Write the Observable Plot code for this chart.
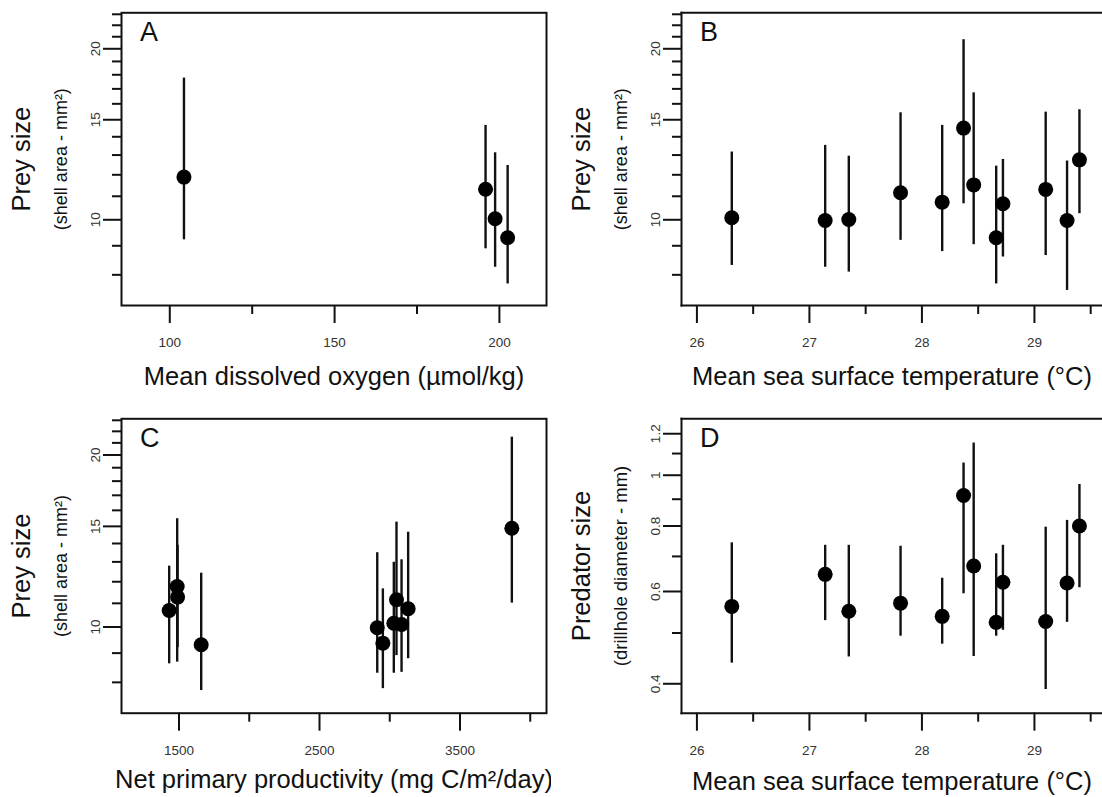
<!DOCTYPE html>
<html><head><meta charset="utf-8">
<script src="https://cdn.jsdelivr.net/npm/d3@7"></script>
<script src="https://cdn.jsdelivr.net/npm/@observablehq/plot@0.6"></script>
<style>
html,body{margin:0;padding:0;background:#fff;overflow:hidden}
#wrap{position:relative;width:1102px;height:797px;background:#fff}
.panel{position:absolute}
.panel svg{max-width:none !important;overflow:visible}
</style></head>
<body><div id="wrap"></div>
<script>
// ---- Panel A: dissolved oxygen vs prey size ----
const oxygenX    = [104.3, 195.8, 198.7, 202.5];
const oxygenPrey = [11.89, 11.32, 10.04, 9.30];
const oxygenLo   = [9.22, 8.89, 8.25, 7.71];
const oxygenHi   = [17.76, 14.66, 13.12, 12.46];

// ---- Panels B & D: sea surface temperature ----
const sstX       = [26.31, 27.14, 27.35, 27.81, 28.18, 28.37, 28.46, 28.66, 28.72, 29.10, 29.29, 29.40];
const sstPrey    = [10.08, 9.97, 10.01, 11.16, 10.74, 14.50, 11.52, 9.30, 10.67, 11.31, 9.97, 12.75];
const sstPreyLo  = [8.31, 8.25, 8.09, 9.20, 8.79, 10.67, 9.04, 7.71, 8.60, 8.65, 7.51, 10.25];
const sstPreyHi  = [13.16, 13.52, 12.94, 15.43, 14.66, 20.75, 16.73, 12.43, 12.77, 15.47, 12.69, 15.62];
const sstPred    = [0.562, 0.647, 0.550, 0.570, 0.538, 0.915, 0.671, 0.524, 0.625, 0.526, 0.623, 0.800];
const sstPredLo  = [0.438, 0.528, 0.450, 0.493, 0.476, 0.594, 0.451, 0.493, 0.506, 0.390, 0.524, 0.610];
const sstPredHi  = [0.743, 0.735, 0.735, 0.732, 0.636, 1.055, 1.152, 0.708, 0.735, 0.796, 0.820, 0.960];

// ---- Panel C: net primary productivity vs prey size ----
const nppX       = [1430, 1487, 1490, 1658, 2911, 2951, 3048, 3029, 3084, 3131, 3869];
const nppPrey    = [10.69, 11.77, 11.28, 9.31, 9.97, 9.37, 11.16, 10.15, 10.10, 10.76, 14.89];
const nppLo      = [8.62, 8.68, 9.20, 7.74, 8.30, 7.80, 8.91, 8.30, 8.33, 8.80, 11.01];
const nppHi      = [12.78, 15.47, 13.90, 12.42, 13.49, 11.66, 15.26, 12.98, 13.11, 14.65, 21.49];

// ---- Tick values and labels ----
const oxyMajor = [100, 150, 200];
const oxyMinor = [125, 175];
const sstMajor = [26, 27, 28, 29];
const sstMinor = [26.5, 27.5, 28.5, 29.5];
const nppMajor = [1500, 2500, 3500];
const nppMinor = [2000, 3000, 4000];
const preyMajor = [10, 15, 20];
const preyMinor = [8, 9, 11, 12, 13, 14, 16, 17, 18, 19, 21, 22, 23];
const predMajor = [0.4, 0.6, 0.8, 1, 1.2];
const predMinor = [0.5, 0.7, 0.9, 1.1];

const preyTitle = "Prey size";
const preySub = "(shell area - mm\u00B2)";
const predTitle = "Predator size";
const predSub = "(drillhole diameter - mm)";

const FONT = "'Liberation Sans', Arial, Helvetica, sans-serif";
const INK = "#111";

function makePanel(cfg) {
  const rows = cfg.xs.map((x, i) => ({x, y: cfg.ys[i], lo: cfg.los[i], hi: cfg.his[i]}));
  const fr = {stroke: INK, strokeWidth: 2};
  const frames = cfg.openRight
    ? [Plot.frame({anchor: "top", ...fr}), Plot.frame({anchor: "bottom", ...fr}), Plot.frame({anchor: "left", ...fr})]
    : [Plot.frame(fr)];
  const chart = Plot.plot({
    width: cfg.width, height: cfg.height,
    marginLeft: cfg.ml, marginRight: cfg.mr, marginTop: cfg.mt, marginBottom: cfg.mb,
    style: {fontFamily: FONT, background: "white", color: "#222"},
    x: {domain: cfg.xDomain, axis: null},
    y: {type: "log", domain: cfg.yDomain, axis: null},
    marks: [
      Plot.axisX(cfg.xMajor, {anchor: "bottom", tickSize: 18, tickFormat: () => "", stroke: INK, strokeWidth: 2, label: null}),
      Plot.axisX(cfg.xMinor, {anchor: "bottom", tickSize: 9, tickFormat: () => "", stroke: INK, strokeWidth: 2, label: null}),
      Plot.axisY(cfg.yMajor, {anchor: "left", tickSize: 18, tickFormat: () => "", stroke: INK, strokeWidth: 2, label: null}),
      Plot.axisY(cfg.yMinor, {anchor: "left", tickSize: 9, tickFormat: () => "", stroke: INK, strokeWidth: 2, label: null}),
      Plot.text(cfg.xMajor, {x: d => d, frameAnchor: "bottom", dy: 37.3, text: d => String(d),
        fontSize: 13.5, fill: "#333", textAnchor: "middle", lineAnchor: "middle"}),
      Plot.text(cfg.yMajor, {y: d => d, frameAnchor: "left", dx: -26, rotate: -90, text: d => String(d),
        fontSize: 13.5, fill: "#333", textAnchor: "middle", lineAnchor: "middle"}),
      Plot.text([cfg.xTitle], {frameAnchor: "bottom", dy: cfg.titleDy, text: d => d, fontSize: 25.5,
        fill: INK, textAnchor: "middle", lineAnchor: "bottom"}),
      Plot.text([cfg.yTitle], {frameAnchor: "left", dx: -100, rotate: -90, text: d => d, fontSize: 25.5,
        fill: INK, textAnchor: "middle", lineAnchor: "middle"}),
      Plot.text([cfg.ySub], {frameAnchor: "left", dx: -60, rotate: -90, text: d => d, fontSize: cfg.subSize,
        fill: INK, textAnchor: "middle", lineAnchor: "middle"}),
      Plot.text([cfg.letter], {frameAnchor: "top-left", dx: 18.5, dy: 28.5, text: d => d, fontSize: 27,
        fill: INK, textAnchor: "start", lineAnchor: "bottom"}),
      ...frames,
      Plot.ruleX(rows, {x: "x", y1: "lo", y2: "hi", stroke: INK, strokeWidth: 2.4}),
      Plot.dot(rows, {x: "x", y: "y", r: 7.5, fill: "#000", stroke: "none"})
    ]
  });
  const div = document.createElement("div");
  div.className = "panel";
  div.style.left = cfg.left + "px";
  div.style.top = cfg.top + "px";
  div.appendChild(chart);
  document.getElementById("wrap").appendChild(div);
}

const preyDomain = [7.065, 23.14];
const predDomain = [0.3515, 1.2814];

makePanel({
  left: 0, top: 0, width: 551, height: 400, ml: 121, mr: 5, mt: 12.3, mb: 95,
  xDomain: [85.35, 214.29], yDomain: preyDomain,
  xs: oxygenX, ys: oxygenPrey, los: oxygenLo, his: oxygenHi,
  xMajor: oxyMajor, xMinor: oxyMinor, yMajor: preyMajor, yMinor: preyMinor,
  xTitle: "Mean dissolved oxygen (\u00B5mol/kg)", titleDy: 79.3,
  yTitle: preyTitle, ySub: preySub, subSize: 18, letter: "A", openRight: false
});

makePanel({
  left: 551, top: 0, width: 551, height: 400, ml: 130, mr: 0, mt: 12.3, mb: 95,
  xDomain: [25.863, 29.605], yDomain: preyDomain,
  xs: sstX, ys: sstPrey, los: sstPreyLo, his: sstPreyHi,
  xMajor: sstMajor, xMinor: sstMinor, yMajor: preyMajor, yMinor: preyMinor,
  xTitle: "Mean sea surface temperature (\u00B0C)", titleDy: 79.3,
  yTitle: preyTitle, ySub: preySub, subSize: 18, letter: "B", openRight: true
});

makePanel({
  left: 0, top: 400, width: 551, height: 397, ml: 121, mr: 5, mt: 18.3, mb: 84.3,
  xDomain: [1090.7, 4115.7], yDomain: preyDomain,
  xs: nppX, ys: nppPrey, los: nppLo, his: nppHi,
  xMajor: nppMajor, xMinor: nppMinor, yMajor: preyMajor, yMinor: preyMinor,
  xTitle: "Net primary productivity (mg C/m\u00B2/day)", titleDy: 75,
  yTitle: preyTitle, ySub: preySub, subSize: 18, letter: "C", openRight: false
});

makePanel({
  left: 551, top: 400, width: 551, height: 397, ml: 130, mr: 0, mt: 18.3, mb: 84.3,
  xDomain: [25.863, 29.605], yDomain: predDomain,
  xs: sstX, ys: sstPred, los: sstPredLo, his: sstPredHi,
  xMajor: sstMajor, xMinor: sstMinor, yMajor: predMajor, yMinor: predMinor,
  xTitle: "Mean sea surface temperature (\u00B0C)", titleDy: 77,
  yTitle: predTitle, ySub: predSub, subSize: 18.5, letter: "D", openRight: true
});
</script>
</body></html>
